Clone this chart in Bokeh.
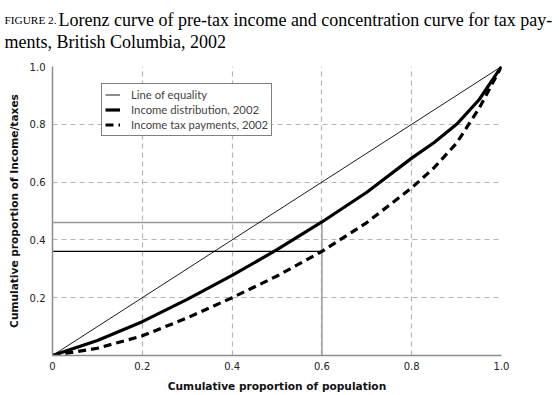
from bokeh.plotting import figure
from bokeh.layouts import column
from bokeh.models import Range1d, FixedTicker, Label, Legend, LegendItem
from bokeh.embed import file_html
from bokeh.resources import INLINE

# ---- data ----
population = [0, 0.1, 0.2, 0.3, 0.4, 0.5, 0.6, 0.7, 0.8, 0.85, 0.9, 0.95, 1.0]
income_share = [0, 0.052, 0.117, 0.194, 0.277, 0.366, 0.462, 0.565, 0.683, 0.737, 0.80, 0.885, 1.0]
tax_share = [0, 0.025, 0.068, 0.13, 0.2, 0.275, 0.36, 0.46, 0.58, 0.65, 0.735, 0.855, 1.0]
equality_x = [0, 1]
equality_y = [0, 1]
ref_pop = 0.6
ref_income = 0.46
ref_tax = 0.36
x_ticks = [0, 0.2, 0.4, 0.6, 0.8, 1.0]
x_tick_labels = ["0", "0.2", "0.4", "0.6", "0.8", "1.0"]
y_ticks = [0.2, 0.4, 0.6, 0.8, 1.0]
y_tick_labels = ["0.2", "0.4", "0.6", "0.8", "1.0"]
title_tag = "FIGURE 2."
title_line1 = "Lorenz curve of pre-tax income and concentration curve for tax pay-"
title_line2 = "ments, British Columbia, 2002"

W = 559
TITLE_H = 52
MAIN_H = 343
BT, BB, BL, BR = 14, 40, 52, 58
FRAME_H = MAIN_H - BT - BB

# ---- title strip ----
t = figure(width=W, height=TITLE_H, x_range=Range1d(0, W), y_range=Range1d(TITLE_H, 0),
           x_axis_type=None, y_axis_type=None, output_backend="svg", toolbar_location=None,
           min_border=0, frame_align=False)
t.outline_line_color = None
t.xgrid.visible = False
t.ygrid.visible = False
t.add_layout(Label(x=4, y=19.5, text=title_tag, text_font="Liberation Serif",
                   text_font_size="11.3px", text_baseline="alphabetic", text_color="black"))
t.add_layout(Label(x=58, y=19.5, text=title_line1, text_font="Liberation Serif",
                   text_font_size="18px", text_baseline="alphabetic", text_color="black"))
t.add_layout(Label(x=4, y=41, text=title_line2, text_font="Liberation Serif",
                   text_font_size="18px", text_baseline="alphabetic", text_color="black"))

# ---- main chart ----
p = figure(width=W, height=MAIN_H, x_range=Range1d(0, 1), y_range=Range1d(0, 1),
           output_backend="svg", toolbar_location=None, frame_align=False,
           min_border_left=BL, min_border_right=BR, min_border_top=BT, min_border_bottom=BB)
p.outline_line_color = None

for ax in (p.xaxis, p.yaxis):
    ax.major_tick_in = 0
    ax.major_tick_out = 0
    ax.minor_tick_in = 0
    ax.minor_tick_out = 0
    ax.axis_line_color = "#8c8c8c"
    ax.axis_line_width = 1.5
    ax.major_label_text_font = "DejaVu Sans"
    ax.major_label_text_font_size = "10px"
    ax.major_label_text_color = "#222222"
    ax.axis_label_text_font = "DejaVu Sans"
    ax.axis_label_text_font_size = "10.6px"
    ax.axis_label_text_font_style = "bold"
    ax.axis_label_text_color = "#111111"

p.xaxis.ticker = FixedTicker(ticks=x_ticks)
p.yaxis.ticker = FixedTicker(ticks=y_ticks)
p.xaxis.major_label_overrides = dict(zip(x_ticks, x_tick_labels))
p.yaxis.major_label_overrides = dict(zip(y_ticks, y_tick_labels))
p.xaxis.axis_label = "Cumulative proportion of population"
p.yaxis.axis_label = "Cumulative proportion of Income/taxes"
p.xaxis.major_label_standoff = 6
p.yaxis.major_label_standoff = 7
p.xaxis.axis_label_standoff = 7
p.yaxis.axis_label_standoff = 7

for g in (p.xgrid, p.ygrid):
    g.grid_line_color = "#b4b4b4"
    g.grid_line_dash = "5 4"
    g.grid_line_width = 1.2
p.xgrid.ticker = FixedTicker(ticks=x_ticks)
p.ygrid.ticker = FixedTicker(ticks=y_ticks)

# reference lines
p.line([0, ref_pop], [ref_income, ref_income], line_color="#999999", line_width=1.5)
p.line([ref_pop, ref_pop], [0, ref_income], line_color="#999999", line_width=1.5)
p.line([0, ref_pop], [ref_tax, ref_tax], line_color="black", line_width=1.2)

# curves
r_eq = p.line(equality_x, equality_y, line_color="black", line_width=0.9)
r_inc = p.line(population, income_share, line_color="black", line_width=3.2, line_join="round")
r_tax = p.line(population, tax_share, line_color="black", line_width=3.2, line_dash="8 5")

legend = Legend(items=[
    LegendItem(label="Line of equality", renderers=[r_eq]),
    LegendItem(label="Income distribution, 2002", renderers=[r_inc]),
    LegendItem(label="Income tax payments, 2002", renderers=[r_tax]),
], location=(49, FRAME_H - 19 - 51))
legend.border_line_color = "black"
legend.border_line_width = 1
legend.background_fill_alpha = 1
legend.padding = 3
legend.spacing = 0
legend.label_height = 15
legend.glyph_height = 15
legend.glyph_width = 15
legend.label_standoff = 11
legend.label_text_font = "Lato"
legend.label_text_font_size = "11.3px"
legend.label_text_baseline = "middle"
legend.margin = 0
p.add_layout(legend, "center")

layout = column(t, p, spacing=0)
open("out.html", "w").write(file_html(layout, INLINE))
